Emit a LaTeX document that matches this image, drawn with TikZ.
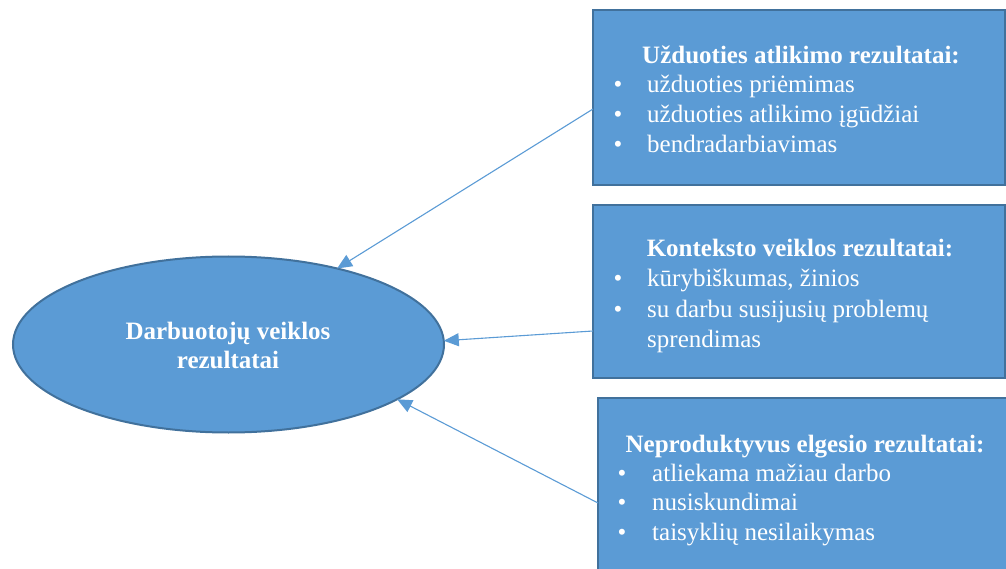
\documentclass[tikz,border=0pt]{standalone}
\usepackage{fontspec}
\setmainfont{Liberation Serif}
\usetikzlibrary{shapes.geometric,arrows.meta}
\definecolor{boxfill}{HTML}{5B9BD5}
\definecolor{boxline}{HTML}{41719C}
\definecolor{arrowline}{HTML}{5B9BD5}
\tikzset{
  panel/.style={draw=boxline, fill=boxfill, line width=2pt, rectangle,
    anchor=north west, outer sep=0pt, inner sep=0pt},
  oval/.style={draw=boxline, fill=boxfill, line width=2pt, ellipse,
    minimum width=431pt, minimum height=176pt, outer sep=0pt, inner sep=0pt},
  txt/.style={text=white, inner sep=0pt, font=\fontsize{25}{30}\selectfont},
  head/.style={txt, anchor=base, font=\fontsize{25}{30}\selectfont\bfseries},
  item/.style={txt, anchor=base west},
  dot/.style={txt, anchor=base, font=\fontsize{25}{30}\selectfont},
  link/.style={draw=arrowline, line width=1.1pt,
    -{Triangle[length=15pt,width=13pt]}}
}
\begin{document}
\begin{tikzpicture}[x=1pt,y=-1pt]
\useasboundingbox (0,0) rectangle (1006,569);
\clip (0,0) rectangle (1006,569);

% central ellipse
\node[oval] (e) at (228.5,344.5) {};
\node[head] (e1) at (228,339) {Darbuotojų veiklos};
\node[head] (e2) at (228,368) {rezultatai};

% task performance
\node[panel, minimum width=412pt, minimum height=175pt] (b1) at (593,10) {};
\node[head] (h1) at (801,64) {Užduoties atlikimo rezultatai:};
\node[dot] (d11) at (618,93) {•};
\node[item] (i11) at (647,93) {užduoties priėmimas};
\node[dot] (d12) at (618,123) {•};
\node[item] (i12) at (647,123) {užduoties atlikimo įgūdžiai};
\node[dot] (d13) at (618,153) {•};
\node[item] (i13) at (647,153) {bendradarbiavimas};

% contextual performance
\node[panel, minimum width=412pt, minimum height=173pt] (b2) at (593,205) {};
\node[head] (h2) at (800,257) {Konteksto veiklos rezultatai:};
\node[dot] (d21) at (618,287) {•};
\node[item] (i21) at (647,287) {kūrybiškumas, žinios};
\node[dot] (d22) at (618,317) {•};
\node[item] (i22) at (647,317) {su darbu susijusių problemų};
\node[item] (i23) at (647,347) {sprendimas};

% counterproductive behaviour
\node[panel, minimum width=412pt, minimum height=202pt] (b3) at (598,398) {};
\node[head] (h3) at (805,452) {Neproduktyvus elgesio rezultatai:};
\node[dot] (d31) at (622,481) {•};
\node[item] (i31) at (652,481) {atliekama mažiau darbo};
\node[dot] (d32) at (622,510) {•};
\node[item] (i32) at (652,510) {nusiskundimai};
\node[dot] (d33) at (622,540) {•};
\node[item] (i33) at (652,540) {taisyklių nesilaikymas};

% connectors
\draw[link] ([yshift=-11.5pt]b1.west) -- (e.35.9);
\draw[link] ([yshift=-39.5pt]b2.west) -- (e.1.6);
\draw[link] ([yshift=-4pt]b3.west) -- (e.-18.5);
\end{tikzpicture}
\end{document}
